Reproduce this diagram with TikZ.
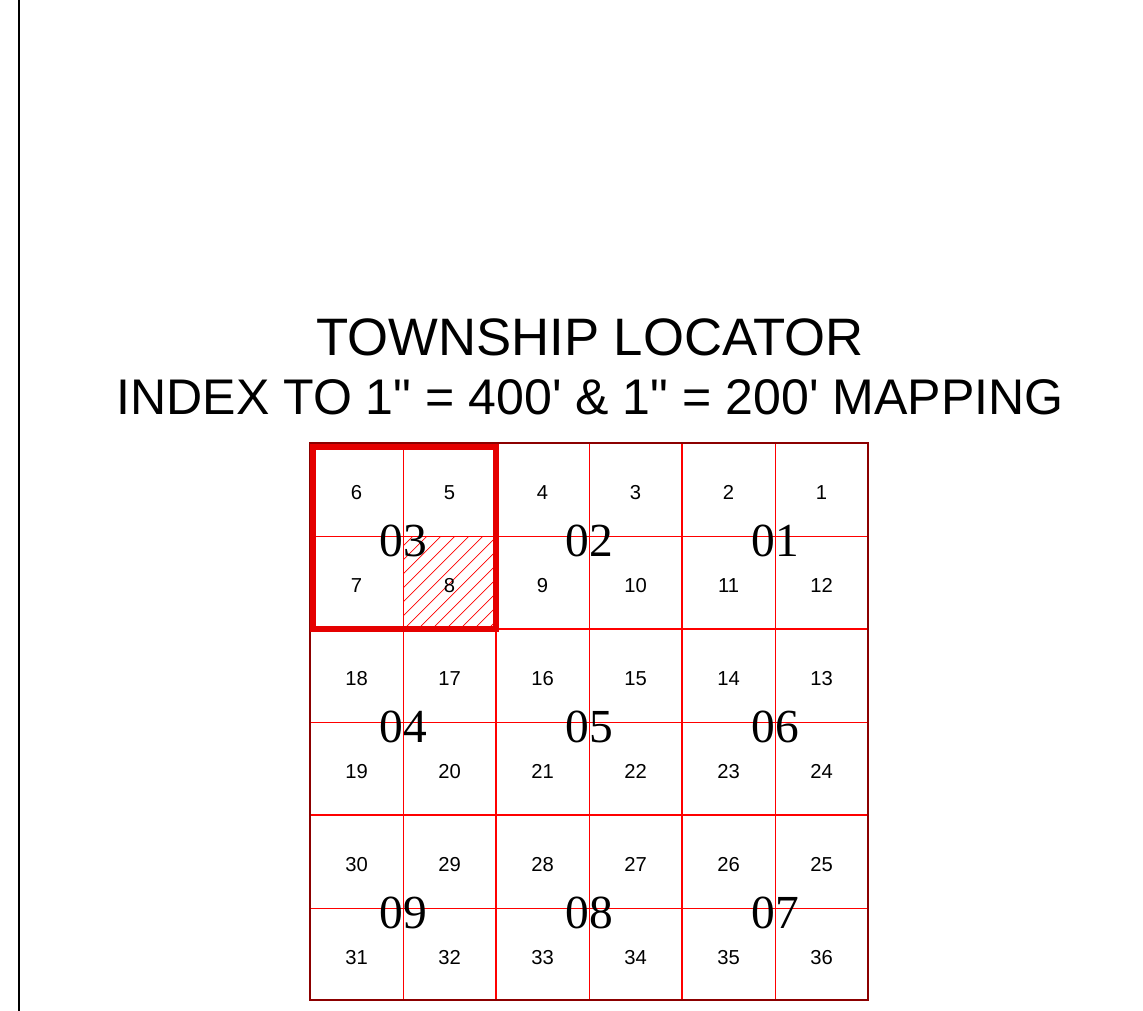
\documentclass[tikz,border=0pt]{standalone}
\usepackage{fontspec}
\setmainfont{Liberation Sans}[Ligatures=TeXOff]
\newfontfamily\bigserif{Liberation Serif}
\begin{document}
\begin{tikzpicture}[x=0.02cm,y=-0.02cm,
    minor/.style={red,line width=0.6pt},
    major/.style={red,line width=1.3pt},
    secnum/.style={font=\fontsize{11.5}{13}\selectfont},
    twpnum/.style={font=\bigserif\fontsize{27}{30}\selectfont,inner sep=0pt},
    title/.style={font=\fontsize{30}{34}\selectfont,inner sep=0pt}]
\useasboundingbox (0,0) rectangle (1143,1011);
\draw[line width=1.4pt] (19,0) -- (19,1011);
\node[title] (head) at (590,337) {TOWNSHIP LOCATOR};
\node[title,font=\fontsize{28.5}{34}\selectfont] (sub) at (590,397) {INDEX TO 1" = 400' \& 1" = 200' MAPPING};
% hatched section 8
\begin{scope}
\clip (403,536) rectangle (497,630);
\foreach \k in {-8,...,7}
  \draw[red,line width=0.4pt] ({403+14*\k},630) -- ({497+14*\k},536);
\end{scope}
% section lines
\foreach \i in {1,3,5} {
  \draw[minor] ({310.5+93*\i},443) -- ({310.5+93*\i},1000);
  \draw[minor] (310,{443.5+93*\i}) -- (868,{443.5+93*\i});
}
% township lines
\foreach \i in {2,4} {
  \draw[major] ({310+93*\i},443) -- ({310+93*\i},1000);
  \draw[major] (310,{443+93*\i}) -- (868,{443+93*\i});
}
\draw[red!55!black,line width=1.2pt] (310,443) rectangle (868,1000);
\draw[red!90!black,line width=3pt] (313,447) rectangle (496,629);
% section numbers
\foreach \r in {0,...,5}
  \foreach \c in {0,...,5} {
    \pgfmathtruncatemacro{\n}{mod(\r,2)==0 ? 6*\r+6-\c : 6*\r+\c+1}
    \node[secnum] (s\n) at ({356.5+93*\c},{492.5+93*\r}) {\n};
  }
% township numbers
\foreach \t/\c/\r in {03/0/0,02/1/0,01/2/0,04/0/1,05/1/1,06/2/1,09/0/2,08/1/2,07/2/2}
  \node[twpnum] (t\t) at ({403+186*\c},{541+186*\r}) {\t};
\end{tikzpicture}
\end{document}
